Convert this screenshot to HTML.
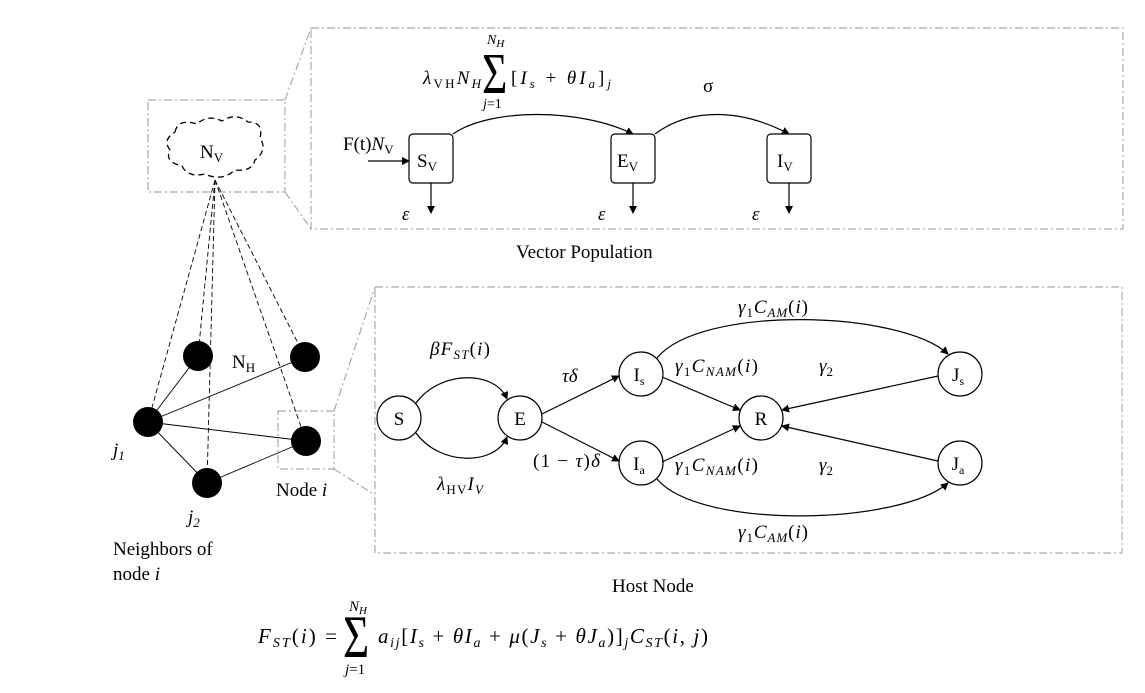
<!DOCTYPE html>
<html><head><meta charset="utf-8"><style>
body{margin:0;background:#fff}
svg{display:block;font-family:"Liberation Serif",serif}
.m{font-style:italic}
</style></head><body>
<svg width="1145" height="693" viewBox="0 0 1145 693" xmlns="http://www.w3.org/2000/svg">
<defs><marker id="ar" markerWidth="8" markerHeight="8" refX="7" refY="4" orient="auto" markerUnits="userSpaceOnUse"><path d="M0,0 L8,4 L0,8 z" fill="#000"/></marker></defs>
<g stroke="#aaa" stroke-width="1.2" fill="none" stroke-dasharray="8,3,2,3">
<rect x="311" y="28" width="812" height="201"/>
<rect x="148" y="100" width="137" height="92"/>
<line x1="285" y1="100" x2="311" y2="28"/><line x1="285" y1="192" x2="311" y2="229"/>
<rect x="375" y="287" width="747" height="266"/>
<rect x="278" y="411" width="56" height="58"/>
<line x1="334" y1="411" x2="375" y2="287"/><line x1="334" y1="469" x2="375" y2="495"/>
</g>
<g>
<path d="M175,132 Q178,118 197,124 Q208,114 222,121 Q236,112 248,122 Q264,122 260,138 Q268,150 255,160 Q252,172 235,170 Q222,182 205,174 Q188,178 182,166 Q164,162 170,150 Q162,140 175,132 Z" fill="none" stroke="#000" stroke-width="1.3" stroke-dasharray="6,4"/>
<text x="200" y="158" font-size="19">N<tspan font-size="13" dy="4">V</tspan></text>
</g>
<g stroke="#000" stroke-width="0.9" stroke-dasharray="5,3" fill="none">
<line x1="215" y1="180" x2="148" y2="422"/><line x1="215" y1="180" x2="198" y2="356"/><line x1="215" y1="180" x2="207" y2="483"/><line x1="215" y1="180" x2="305" y2="357"/><line x1="215" y1="180" x2="306" y2="441"/>
</g>
<g stroke="#000" stroke-width="0.9">
<line x1="148" y1="422" x2="198" y2="356"/><line x1="148" y1="422" x2="305" y2="357"/><line x1="148" y1="422" x2="306" y2="441"/><line x1="148" y1="422" x2="207" y2="483"/><line x1="207" y1="483" x2="306" y2="441"/>
</g>
<g fill="#000">
<circle cx="198" cy="356" r="15"/>
<circle cx="305" cy="357" r="15"/>
<circle cx="148" cy="422" r="15"/>
<circle cx="306" cy="441" r="15"/>
<circle cx="207" cy="483" r="15"/>
</g>
<text x="232" y="368" font-size="19">N<tspan font-size="13" dy="4">H</tspan></text>
<text x="113" y="456" font-size="19" class="m">j<tspan font-size="13" dy="4">1</tspan></text>
<text x="188" y="523" font-size="19" class="m">j<tspan font-size="13" dy="4">2</tspan></text>
<text x="276" y="496" font-size="19">Node <tspan class="m">i</tspan></text>
<text x="113" y="555" font-size="19">Neighbors of</text>
<text x="113" y="580" font-size="19">node <tspan class="m">i</tspan></text>
<g stroke="#000" stroke-width="1.2" fill="none">
<rect x="409" y="134" width="44" height="49" rx="4"/><rect x="611" y="134" width="44" height="49" rx="4"/><rect x="767" y="134" width="44" height="49" rx="4"/>
<line x1="368" y1="161" x2="409" y2="161" marker-end="url(#ar)"/>
<path d="M453,134 C490,108 580,108 633,134" marker-end="url(#ar)"/>
<path d="M655,134 C690,108 740,108 789,134" marker-end="url(#ar)"/>
<line x1="431" y1="183" x2="431" y2="213" marker-end="url(#ar)"/><line x1="633" y1="183" x2="633" y2="213" marker-end="url(#ar)"/><line x1="789" y1="183" x2="789" y2="213" marker-end="url(#ar)"/>
</g>
<g font-size="19">
<text x="417" y="167">S<tspan font-size="13" dy="4">V</tspan></text>
<text x="617" y="167">E<tspan font-size="13" dy="4">V</tspan></text>
<text x="777" y="167">I<tspan font-size="13" dy="4">V</tspan></text>
<text x="343" y="150">F(t)<tspan class="m">N</tspan><tspan font-size="13" dy="4">V</tspan></text>
<text x="402" y="220" class="m">ε</text><text x="598" y="220" class="m">ε</text><text x="752" y="220" class="m">ε</text>
<text x="423" y="84" textLength="58" lengthAdjust="spacing"><tspan class="m">λ</tspan><tspan font-size="13" dy="4">VH</tspan><tspan class="m" dy="-4">N</tspan><tspan class="m" font-size="13" dy="4">H</tspan></text>
<text x="482" y="93" font-size="58" transform="translate(482,0) scale(0.75,1) translate(-482,0)">Σ</text>
<text x="487" y="44" font-size="14" class="m">N<tspan font-size="11" dy="3">H</tspan></text>
<text x="483" y="108" font-size="14"><tspan class="m">j</tspan>=1</text>
<text x="511" y="84" textLength="100" lengthAdjust="spacing">[<tspan class="m">I</tspan><tspan class="m" font-size="13" dy="4">s</tspan><tspan dy="-4"> + </tspan><tspan class="m">θI</tspan><tspan class="m" font-size="13" dy="4">a</tspan><tspan dy="-4">]</tspan><tspan class="m" font-size="13" dy="4">j</tspan></text>
<text x="703" y="92">σ</text>
<text x="516" y="258">Vector Population</text>
</g>
<g stroke="#000" stroke-width="1.2" fill="none">
<circle cx="399" cy="418" r="22"/><circle cx="520" cy="418" r="22"/><circle cx="641" cy="374" r="22"/><circle cx="641" cy="463" r="22"/><circle cx="761" cy="418" r="22"/><circle cx="960" cy="374" r="22"/><circle cx="960" cy="463" r="22"/>
<path d="M416,403 C440,370 495,370 507,399" marker-end="url(#ar)"/>
<path d="M416,433 C440,466 495,466 507,437" marker-end="url(#ar)"/>
<line x1="542" y1="414" x2="619" y2="376" marker-end="url(#ar)"/>
<line x1="542" y1="422" x2="619" y2="461" marker-end="url(#ar)"/>
<line x1="662" y1="377" x2="740" y2="410" marker-end="url(#ar)"/>
<line x1="662" y1="462" x2="740" y2="426" marker-end="url(#ar)"/>
<line x1="938" y1="376" x2="782" y2="410" marker-end="url(#ar)"/>
<line x1="938" y1="461" x2="782" y2="426" marker-end="url(#ar)"/>
<path d="M657,358 C700,305 900,310 948,354" marker-end="url(#ar)"/>
<path d="M657,479 C700,530 900,525 948,483" marker-end="url(#ar)"/>
</g>
<g font-size="19" text-anchor="middle">
<text x="399" y="425">S</text><text x="520" y="425">E</text><text x="761" y="425">R</text>
<text x="639" y="381">I<tspan font-size="12" dy="4">s</tspan></text>
<text x="639" y="470">I<tspan font-size="12" dy="4">a</tspan></text>
<text x="958" y="381">J<tspan font-size="12" dy="4">s</tspan></text>
<text x="958" y="470">J<tspan font-size="12" dy="4">a</tspan></text>
</g>
<g font-size="19">
<text x="430" y="355" textLength="60" lengthAdjust="spacing"><tspan class="m">βF</tspan><tspan class="m" font-size="13" dy="4">ST</tspan><tspan dy="-4">(</tspan><tspan class="m">i</tspan>)</text>
<text x="437" y="490" textLength="46" lengthAdjust="spacing"><tspan class="m">λ</tspan><tspan font-size="13" dy="4">HV</tspan><tspan class="m" dy="-4">I</tspan><tspan class="m" font-size="13" dy="4">V</tspan></text>
<text x="562" y="382" class="m">τδ</text>
<text x="533" y="467" textLength="67" lengthAdjust="spacing">(1 − <tspan class="m">τ</tspan>)<tspan class="m">δ</tspan></text>
<text x="738" y="313" textLength="70" lengthAdjust="spacing"><tspan class="m">γ</tspan><tspan font-size="13" dy="4">1</tspan><tspan class="m" dy="-4">C</tspan><tspan class="m" font-size="13" dy="4">AM</tspan><tspan dy="-4">(</tspan><tspan class="m">i</tspan>)</text>
<text x="675" y="372" textLength="83" lengthAdjust="spacing"><tspan class="m">γ</tspan><tspan font-size="13" dy="4">1</tspan><tspan class="m" dy="-4">C</tspan><tspan class="m" font-size="13" dy="4">NAM</tspan><tspan dy="-4">(</tspan><tspan class="m">i</tspan>)</text>
<text x="675" y="471" textLength="83" lengthAdjust="spacing"><tspan class="m">γ</tspan><tspan font-size="13" dy="4">1</tspan><tspan class="m" dy="-4">C</tspan><tspan class="m" font-size="13" dy="4">NAM</tspan><tspan dy="-4">(</tspan><tspan class="m">i</tspan>)</text>
<text x="738" y="538" textLength="70" lengthAdjust="spacing"><tspan class="m">γ</tspan><tspan font-size="13" dy="4">1</tspan><tspan class="m" dy="-4">C</tspan><tspan class="m" font-size="13" dy="4">AM</tspan><tspan dy="-4">(</tspan><tspan class="m">i</tspan>)</text>
<text x="819" y="372"><tspan class="m">γ</tspan><tspan font-size="13" dy="4">2</tspan></text>
<text x="819" y="471"><tspan class="m">γ</tspan><tspan font-size="13" dy="4">2</tspan></text>
<text x="612" y="592">Host Node</text>
</g>
<g font-size="21">
<text x="258" y="643" textLength="79" lengthAdjust="spacing"><tspan class="m">F</tspan><tspan class="m" font-size="14" dy="4">ST</tspan><tspan dy="-4">(</tspan><tspan class="m">i</tspan>) =</text>
<text x="343" y="657" font-size="60" transform="translate(343,0) scale(0.75,1) translate(-343,0)">Σ</text>
<text x="349" y="611" font-size="15" class="m">N<tspan font-size="11" dy="3">H</tspan></text>
<text x="345" y="674" font-size="15"><tspan class="m">j</tspan>=1</text>
<text x="378" y="643" textLength="330" lengthAdjust="spacing"><tspan class="m">a</tspan><tspan class="m" font-size="14" dy="4">ij</tspan><tspan dy="-4">[</tspan><tspan class="m">I</tspan><tspan class="m" font-size="14" dy="4">s</tspan><tspan dy="-4"> + </tspan><tspan class="m">θI</tspan><tspan class="m" font-size="14" dy="4">a</tspan><tspan dy="-4"> + </tspan><tspan class="m">μ</tspan>(<tspan class="m">J</tspan><tspan class="m" font-size="14" dy="4">s</tspan><tspan dy="-4"> + </tspan><tspan class="m">θJ</tspan><tspan class="m" font-size="14" dy="4">a</tspan><tspan dy="-4">)]</tspan><tspan class="m" font-size="14" dy="4">j</tspan><tspan class="m" dy="-4">C</tspan><tspan class="m" font-size="14" dy="4">ST</tspan><tspan dy="-4">(</tspan><tspan class="m">i</tspan>, <tspan class="m">j</tspan>)</text>
</g>
</svg>
</body></html>
